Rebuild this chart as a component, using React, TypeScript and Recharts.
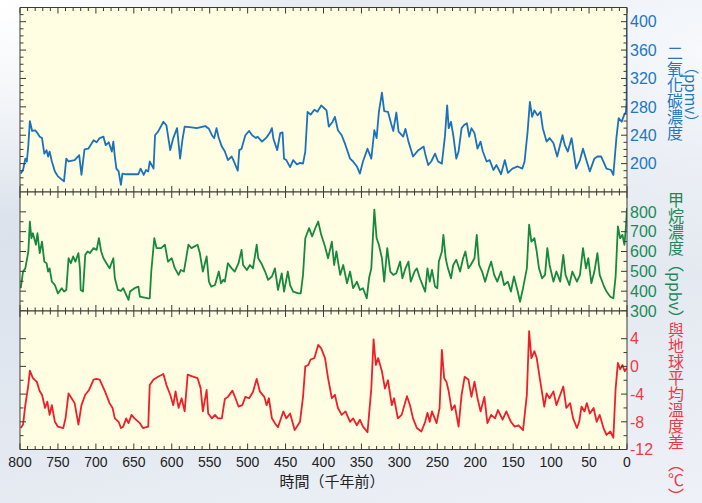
import React from 'react';
import { LineChart, Line, XAxis, YAxis, CartesianGrid } from 'recharts';

const W = 702;
const H = 503;
const PLOT_LEFT = 20;
const PLOT_RIGHT = 627;

// ages are thousand years before present
const co2Ages = [
  799, 796, 793, 791, 789, 787, 784, 780, 777, 774, 771, 768, 765, 763, 761, 758, 754, 750, 742, 739,
  736, 728, 722, 719, 715, 710, 703, 699, 695, 690, 687, 683, 679, 677, 675, 673, 670, 667, 665, 660,
  644, 641, 637, 634, 631, 629, 624, 622, 618, 611, 607, 602, 598, 593, 589, 586, 583, 574, 567, 556,
  551, 547, 544, 541, 538, 534, 530, 526, 521, 518, 513, 511, 508, 503, 498, 494, 489, 487, 481, 475,
  471, 468, 466, 461, 457, 454, 452, 449, 444, 440, 435, 431, 427, 424, 421, 417, 412, 408, 403, 399,
  396, 393, 388, 385, 381, 376, 371, 365, 361, 356, 352, 348, 342, 337, 333, 330, 327, 323, 320, 315,
  311, 308, 304, 301, 295, 292, 288, 282, 275, 268, 266, 262, 258, 253, 249, 244, 240, 237, 235, 232,
  229, 225, 222, 218, 215, 211, 208, 205, 201, 197, 193, 190, 185, 181, 176, 172, 166, 161, 157, 151,
  144, 138, 135, 131, 128, 125, 122, 118, 114, 111, 106, 102, 97, 92, 85, 82, 78, 73, 67, 62,
  58, 53, 49, 43, 39, 34, 27, 21, 18, 14, 11, 7, 4, 1.4, 0.5, 0,
];
const co2Values = [
  186, 191, 207, 203, 226, 260, 246, 247, 243, 238, 236, 214, 219, 210, 217, 203, 189, 182, 175, 207,
  203, 205, 212, 184, 220, 221, 233, 230, 236, 238, 226, 230, 217, 231, 210, 193, 189, 170, 186, 185,
  185, 193, 184, 191, 189, 203, 193, 240, 245, 259, 254, 219, 236, 250, 207, 233, 252, 251, 250, 253,
  249, 240, 236, 250, 236, 224, 217, 205, 210, 203, 190, 219, 221, 240, 246, 240, 236, 238, 231, 237,
  243, 250, 235, 219, 243, 244, 207, 205, 195, 205, 199, 201, 200, 217, 273, 269, 276, 273, 282, 278,
  275, 252, 259, 266, 247, 240, 226, 207, 203, 196, 186, 203, 221, 207, 247, 236, 273, 300, 274, 273,
  257, 246, 272, 245, 238, 249, 231, 210, 219, 224, 214, 198, 203, 214, 203, 200, 238, 282, 250, 259,
  240, 207, 217, 250, 254, 257, 238, 250, 243, 221, 231, 217, 203, 205, 191, 198, 185, 205, 187, 193,
  196, 193, 203, 245, 287, 266, 275, 268, 273, 250, 231, 236, 229, 210, 240, 226, 217, 236, 193, 205,
  221, 203, 189, 207, 210, 210, 193, 191, 184, 236, 264, 259, 268, 273, 287, 410,
];

const ch4Ages = [
  799, 796, 793, 789, 787, 785, 783, 779, 777, 774, 771, 768, 765, 763, 761, 758, 754, 750, 745, 742,
  739, 736, 733, 730, 727, 723, 721, 720, 717, 714, 711, 708, 703, 699, 696, 693, 690, 686, 682, 677,
  675, 671, 667, 664, 657, 655, 649, 644, 642, 631, 629, 627, 623, 620, 614, 609, 605, 600, 596, 591,
  588, 584, 578, 574, 566, 563, 559, 554, 551, 548, 543, 538, 535, 532, 530, 526, 521, 517, 512, 508,
  506, 501, 497, 493, 488, 486, 482, 477, 473, 468, 464, 460, 455, 452, 447, 444, 440, 433, 430, 427,
  424, 419, 415, 410, 407, 403, 398, 394, 389, 386, 383, 378, 374, 369, 365, 361, 356, 352, 348, 343,
  340, 337, 333, 330, 327, 323, 320, 316, 312, 308, 304, 299, 296, 292, 288, 285, 280, 277, 273, 266,
  263, 260, 257, 253, 250, 248, 244, 242, 239, 236, 232, 229, 225, 220, 216, 213, 209, 206, 201, 198,
  195, 191, 187, 182, 179, 175, 171, 166, 162, 157, 153, 149, 144, 141, 137, 132, 129, 126, 122, 119,
  116, 112, 108, 105, 102, 97, 93, 88, 84, 81, 76, 72, 66, 62, 58, 54, 51, 47, 43, 39,
  36, 31, 27, 22, 18, 15, 12, 9, 6, 3.4, 1.2, 0,
];
const ch4Values = [
  415, 499, 515, 600, 751, 667, 692, 634, 692, 592, 650, 549, 541, 499, 515, 448, 431, 389, 415, 398,
  406, 566, 541, 575, 549, 592, 515, 406, 398, 583, 600, 592, 617, 608, 667, 600, 566, 541, 515, 566,
  465, 406, 401, 415, 356, 398, 415, 423, 372, 364, 364, 499, 667, 617, 617, 634, 549, 566, 516, 482,
  507, 499, 634, 617, 634, 592, 499, 575, 448, 423, 431, 499, 440, 457, 448, 541, 515, 499, 541, 608,
  532, 507, 532, 515, 634, 566, 541, 499, 457, 474, 515, 406, 490, 398, 499, 431, 398, 389, 389, 482,
  667, 718, 676, 726, 751, 684, 625, 566, 650, 532, 600, 482, 532, 440, 499, 415, 448, 406, 415, 364,
  465, 515, 811, 667, 634, 566, 448, 617, 499, 482, 490, 549, 465, 515, 549, 448, 499, 515, 465, 398,
  515, 448, 507, 423, 415, 549, 600, 684, 566, 515, 465, 532, 558, 499, 566, 600, 515, 532, 566, 684,
  532, 499, 448, 515, 549, 482, 448, 499, 431, 448, 398, 474, 398, 347, 415, 515, 735, 650, 667, 600,
  515, 465, 482, 617, 532, 448, 499, 448, 583, 482, 431, 499, 448, 482, 617, 515, 566, 440, 499, 592,
  482, 431, 398, 372, 364, 474, 726, 667, 684, 634, 735, 819,
];

const tempAges = [
  799, 796, 793, 789, 787, 783, 778, 774, 771, 767, 764, 761, 758, 754, 750, 743, 740, 736, 732, 728,
  723, 719, 714, 709, 703, 699, 695, 688, 682, 678, 675, 670, 667, 664, 660, 657, 653, 649, 642, 638,
  631, 629, 624, 618, 611, 607, 602, 598, 595, 591, 587, 583, 579, 574, 566, 562, 559, 554, 552, 547,
  543, 539, 534, 530, 526, 520, 516, 512, 507, 503, 498, 493, 488, 484, 478, 475, 472, 468, 464, 460,
  453, 449, 444, 438, 431, 427, 424, 420, 417, 412, 407, 403, 398, 394, 389, 385, 381, 376, 371, 365,
  361, 356, 352, 348, 342, 337, 334, 331, 328, 323, 319, 315, 310, 307, 302, 297, 290, 286, 282, 277,
  271, 266, 263, 260, 257, 251, 247, 244, 241, 238, 235, 231, 227, 222, 218, 214, 209, 205, 201, 197,
  193, 188, 184, 179, 174, 170, 164, 159, 153, 148, 143, 137, 132, 129, 126, 122, 119, 115, 109, 106,
  102, 97, 93, 88, 84, 80, 75, 71, 66, 63, 60, 56, 53, 49, 44, 40, 36, 31, 27, 22,
  18, 15, 12, 9, 6, 3, 0,
];
const tempValues = [
  -8.9, -8.4, -5.6, -2.7, -0.6, -1.7, -2.2, -3.6, -4.1, -6.0, -5.1, -7.0, -5.6, -8.0, -8.7, -8.9, -7.5, -3.9, -4.6, -5.3,
  -8.4, -5.6, -4.1, -3.4, -1.9, -1.8, -1.9, -3.6, -5.3, -6.0, -7.5, -8.0, -8.9, -8.7, -7.5, -8.2, -7.0, -7.5, -8.2, -8.9,
  -8.7, -2.7, -1.9, -1.5, -1.1, -2.7, -4.1, -5.6, -3.6, -6.0, -4.6, -6.5, -1.2, -1.4, -1.7, -3.1, -6.5, -3.4, -6.8, -7.5,
  -7.0, -7.5, -7.5, -4.7, -4.4, -3.5, -4.6, -5.8, -5.6, -4.4, -4.6, -3.7, -1.8, -3.6, -4.4, -5.6, -4.6, -7.5, -8.2, -8.8,
  -6.5, -7.5, -6.8, -9.2, -8.0, -4.4, 0.0, 0.2, 1.0, 1.2, 3.1, 2.6, 1.2, -1.7, -4.6, -4.1, -6.0, -7.0, -6.5, -8.0,
  -7.5, -8.5, -7.7, -8.7, -9.5, -3.2, 3.9, 0.2, 1.2, -0.7, -3.2, -2.0, -5.6, -4.6, -7.5, -7.0, -4.3, -5.6, -7.5, -8.9,
  -9.4, -8.0, -6.7, -8.0, -6.5, -8.2, -6.0, 2.4, -1.7, -2.2, -3.6, -6.3, -5.6, -8.7, -4.1, -1.5, -1.9, -4.4, -2.2, -4.6,
  -6.5, -4.4, -8.2, -7.0, -7.5, -6.3, -7.7, -6.5, -8.0, -8.7, -8.5, -9.2, -4.1, 5.1, 1.2, 2.2, 1.2, -1.7, -5.8, -3.9,
  -4.6, -3.6, -5.6, -4.1, -2.9, -6.0, -5.3, -7.5, -8.9, -8.0, -5.8, -6.5, -5.3, -6.8, -6.0, -8.0, -7.0, -8.9, -9.9, -9.4,
  -10.3, -3.2, 0.5, -0.4, 0.2, -0.7, -0.2,
];

const ageLabels = [800, 750, 700, 650, 600, 550, 500, 450, 400, 350, 300, 250, 200, 150, 100, 50, 0];
const co2Labels = [200, 240, 280, 320, 360, 400];
const ch4Labels = [300, 400, 500, 600, 700, 800];
const tempLabels = [-12, -8, -4, 0, 4];

const ageTicks = Array.from({ length: 81 }, (_, i) => i * 10);
const co2Ticks = Array.from({ length: 25 }, (_, i) => 170 + i * 10);
const ch4Ticks = Array.from({ length: 11 }, (_, i) => 300 + i * 50);
const tempTicks = Array.from({ length: 9 }, (_, i) => -12 + i * 2);

const zip = (ages: number[], values: number[]) => ages.map((age, i) => ({ age, value: values[i] }));

const PANEL_FILL = '#fffde2';
const BORDER = '#3a3a3a';
const NUM_FONT = "'Liberation Sans', Arial, sans-serif";
const CJK_FONT = "'Noto Sans CJK TC', 'Noto Sans CJK SC', sans-serif";

type Side = 'top' | 'bottom' | 'left' | 'right';

function makeTick(side: Side, majors: number[], showLabels: boolean, color = '#222') {
  return (props: any) => {
    const { x, y, payload } = props;
    const v = payload.value;
    const major = majors.includes(v);
    const len = major ? 6 : 3.5;
    let line;
    if (side === 'bottom') line = <line x1={x} y1={y} x2={x} y2={y - len} />;
    else if (side === 'top') line = <line x1={x} y1={y} x2={x} y2={y + len} />;
    else if (side === 'left') line = <line x1={x} y1={y} x2={x + len} y2={y} />;
    else line = <line x1={x} y1={y} x2={x - len} y2={y} />;
    let label = null;
    if (showLabels && major) {
      if (side === 'bottom') {
        label = (
          <text x={x} y={y + 17.5} textAnchor="middle" fill={color} stroke="none" fontSize={14} fontFamily={NUM_FONT}>
            {v}
          </text>
        );
      } else if (side === 'right') {
        label = (
          <text x={x + 3} y={y} dy="0.36em" textAnchor="start" fill={color} stroke="none" fontSize={16} fontFamily={NUM_FONT}>
            {v}
          </text>
        );
      }
    }
    return (
      <g stroke={BORDER} strokeWidth={1}>
        {line}
        {label}
      </g>
    );
  };
}

type PanelProps = {
  top: number;
  bottom: number;
  data: { age: number; value: number }[];
  domain: [number, number];
  yTicks: number[];
  yLabels: number[];
  labelColor: string;
  lineColor: string;
  showAgeLabels?: boolean;
};

function Panel({ top, bottom, data, domain, yTicks, yLabels, labelColor, lineColor, showAgeLabels }: PanelProps) {
  const axisLine = { stroke: BORDER, strokeWidth: 1 };
  return (
    <div style={{ position: 'absolute', left: 0, top: 0 }}>
      <LineChart
        width={W}
        height={H}
        data={data}
        margin={{ top: top - 1, bottom: H - bottom - 1, left: PLOT_LEFT - 1, right: W - PLOT_RIGHT - 1 }}
      >
        <CartesianGrid horizontal={false} vertical={false} fill={PANEL_FILL} />
        <XAxis
          xAxisId={0}
          orientation="bottom"
          type="number"
          dataKey="age"
          domain={[0, 800]}
          reversed
          allowDataOverflow
          ticks={ageTicks}
          interval={0}
          height={1}
          tickSize={0}
          tickMargin={0}
          tickLine={false}
          axisLine={axisLine}
          tick={makeTick('bottom', ageLabels, !!showAgeLabels)}
        />
        <XAxis
          xAxisId="top"
          orientation="top"
          type="number"
          dataKey="age"
          domain={[0, 800]}
          reversed
          allowDataOverflow
          ticks={ageTicks}
          interval={0}
          height={1}
          tickSize={0}
          tickMargin={0}
          tickLine={false}
          axisLine={axisLine}
          tick={makeTick('top', ageLabels, false)}
        />
        <YAxis
          yAxisId={0}
          orientation="left"
          type="number"
          domain={domain}
          allowDataOverflow
          ticks={yTicks}
          interval={0}
          width={1}
          tickSize={0}
          tickMargin={0}
          tickLine={false}
          axisLine={axisLine}
          tick={makeTick('left', yLabels, false)}
        />
        <YAxis
          yAxisId="right"
          orientation="right"
          type="number"
          domain={domain}
          allowDataOverflow
          ticks={yTicks}
          interval={0}
          width={1}
          tickSize={0}
          tickMargin={0}
          tickLine={false}
          axisLine={axisLine}
          tick={makeTick('right', yLabels, true, labelColor)}
        />
        <Line
          type="linear"
          dataKey="value"
          stroke={lineColor}
          strokeWidth={1.8}
          strokeLinejoin="round"
          dot={false}
          activeDot={false}
          isAnimationActive={false}
        />
      </LineChart>
    </div>
  );
}

function VText({ text, left, top, color, size = 16 }: { text: string; left: number; top: number; color: string; size?: number }) {
  return (
    <div
      style={{
        position: 'absolute',
        left,
        top,
        writingMode: 'vertical-rl',
        fontFamily: CJK_FONT,
        fontSize: size,
        lineHeight: 1,
        color,
        whiteSpace: 'nowrap',
      }}
    >
      {text}
    </div>
  );
}

const BLUE = '#2377c0';
const GREEN = '#1b8a57';
const RED = '#ee3a44';

export default function App() {
  return (
    <div
      style={{
        position: 'absolute',
        left: 0,
        top: 0,
        width: W,
        height: H,
        overflow: 'hidden',
        background:
          'radial-gradient(ellipse at 0% 0%, #ffffff 0%, rgba(255,255,255,0) 30%), radial-gradient(ellipse at 100% 10%, #f7f9fc 0%, rgba(255,255,255,0) 35%), linear-gradient(165deg, #eef1f6 0%, #dbe2ec 35%, #e4e9f1 65%, #eef1f7 100%)',
      }}
    >
      <Panel
        top={7.5}
        bottom={192}
        data={zip(co2Ages, co2Values)}
        domain={[160, 420]}
        yTicks={co2Ticks}
        yLabels={co2Labels}
        labelColor={BLUE}
        lineColor="#1a72bd"
      />
      <Panel
        top={192}
        bottom={311}
        data={zip(ch4Ages, ch4Values)}
        domain={[300, 900]}
        yTicks={ch4Ticks}
        yLabels={ch4Labels}
        labelColor={GREEN}
        lineColor="#17893e"
      />
      <Panel
        top={311}
        bottom={449.5}
        data={zip(tempAges, tempValues)}
        domain={[-12, 8]}
        yTicks={tempTicks}
        yLabels={tempLabels}
        labelColor={RED}
        lineColor="#ef1f2a"
        showAgeLabels
      />
      <VText text="二氧化碳濃度" left={667} top={45} color={BLUE} />
      <VText text="（ppmv）" left={684} top={59} color={BLUE} size={15} />
      <VText text="甲烷濃度（ppbv）" left={668} top={192} color={GREEN} />
      <VText text="與地球平均溫度差" left={668} top={322} color={RED} />
      <VText text="（℃）" left={668} top={456} color={RED} />
      <div
        style={{
          position: 'absolute',
          left: 232,
          top: 472,
          width: 200,
          textAlign: 'center',
          fontFamily: CJK_FONT,
          fontSize: 15,
          lineHeight: 1.2,
          color: '#222',
        }}
      >
        時間（千年前）
      </div>
    </div>
  );
}
